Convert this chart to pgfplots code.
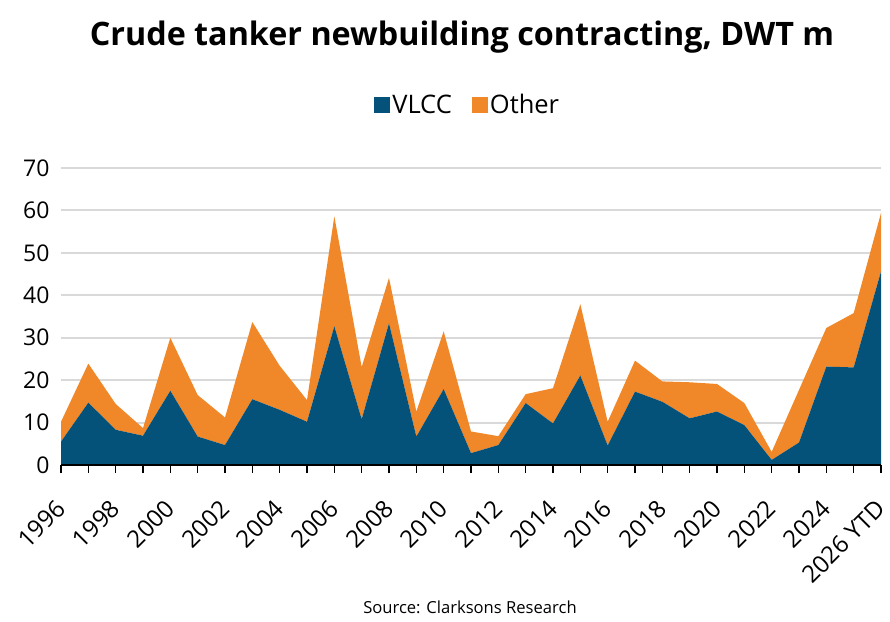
\documentclass[border=0pt]{standalone}
\usepackage{pgfplots}
\pgfplotsset{compat=1.18}
\usepackage{fontspec}
\setmainfont{Open Sans}
\definecolor{vlcc}{RGB}{4,82,122}
\definecolor{other}{RGB}{240,136,42}
\definecolor{gridgrey}{RGB}{217,217,217}

\begin{document}
\begin{tikzpicture}
\node[font=\fontsize{32.3bp}{38bp}\selectfont\bfseries] at (462bp,-37bp) {Crude tanker newbuilding contracting, DWT m};
\begin{axis}[
  at={(61bp,-465bp)}, anchor=south west,
  scale only axis, width=820bp, height=297bp,
  xmin=1996, xmax=2026, ymin=0, ymax=70,
  xtick={1996,...,2026},
  xticklabels={1996,,1998,,2000,,2002,,2004,,2006,,2008,,2010,,2012,,2014,,2016,,2018,,2020,,2022,,2024,,2026 YTD},
  ytick={0,10,...,70},
  ymajorgrids, grid style={gridgrey, line width=2bp},
  axis line style={draw=none},
  xtick pos=bottom, ytick pos=left,
  tick align=outside, major tick length=8bp,
  xtick style={draw=black, line width=1.5bp},
  ytick style={draw=none},
  /pgf/number format/assume math mode=true,
  /pgf/number format/1000 sep={},
  tick label style={font=\fontsize{24bp}{28bp}\selectfont},
  yticklabel style={anchor=east, font=\fontsize{23bp}{28bp}\selectfont},
  xticklabel style={rotate=45, anchor=north east, inner xsep=22bp, inner ysep=13bp},
  stack plots=y,
  legend style={at={(0.496,1.212)}, anchor=center, draw=none, fill=none,
    legend columns=2, font=\fontsize{25.5bp}{30bp}\selectfont,
    /tikz/every even column/.append style={column sep=18bp}},
  legend image code/.code={\fill[#1] (0bp,-8bp) rectangle (16bp,8bp);},
  % the baseline is drawn over the stacked areas
  after end axis/.code={\draw[black, line width=2bp] (rel axis cs:0,0) -- (rel axis cs:1,0);},
]
% VLCC contracting, DWT m
\addplot[fill=vlcc, draw=none] coordinates {
  (1996,5.5) (1997,14.7) (1998,8.3) (1999,6.9) (2000,17.5) (2001,6.7)
  (2002,4.7) (2003,15.5) (2004,13.0) (2005,10.2) (2006,32.7) (2007,10.8)
  (2008,33.4) (2009,6.7) (2010,17.9) (2011,2.8) (2012,4.7) (2013,14.6)
  (2014,9.8) (2015,21.1) (2016,4.6) (2017,17.3) (2018,14.9) (2019,11.0)
  (2020,12.6) (2021,9.4) (2022,1.2) (2023,5.3) (2024,23.2) (2025,23.0)
  (2026,45.6)
} \closedcycle;
% Other crude tankers, stacked on VLCC
\addplot[fill=other, draw=none] coordinates {
  (1996,4.7) (1997,9.2) (1998,6.1) (1999,1.8) (2000,12.5) (2001,9.8)
  (2002,6.5) (2003,18.2) (2004,10.4) (2005,5.1) (2006,25.9) (2007,12.3)
  (2008,10.7) (2009,5.9) (2010,13.6) (2011,5.1) (2012,2.1) (2013,2.1)
  (2014,8.3) (2015,16.8) (2016,5.6) (2017,7.3) (2018,4.8) (2019,8.5)
  (2020,6.5) (2021,5.2) (2022,1.9) (2023,12.4) (2024,9.1) (2025,12.8)
  (2026,13.8)
} \closedcycle;
\legend{VLCC, Other}
\end{axis}
\node[font=\fontsize{16.6bp}{20bp}\selectfont] at (470bp,-607bp) {Source: Clarksons Research};
\pgfresetboundingbox
\path[use as bounding box] (0,0) rectangle (890bp,-622bp);
\end{tikzpicture}
\end{document}
